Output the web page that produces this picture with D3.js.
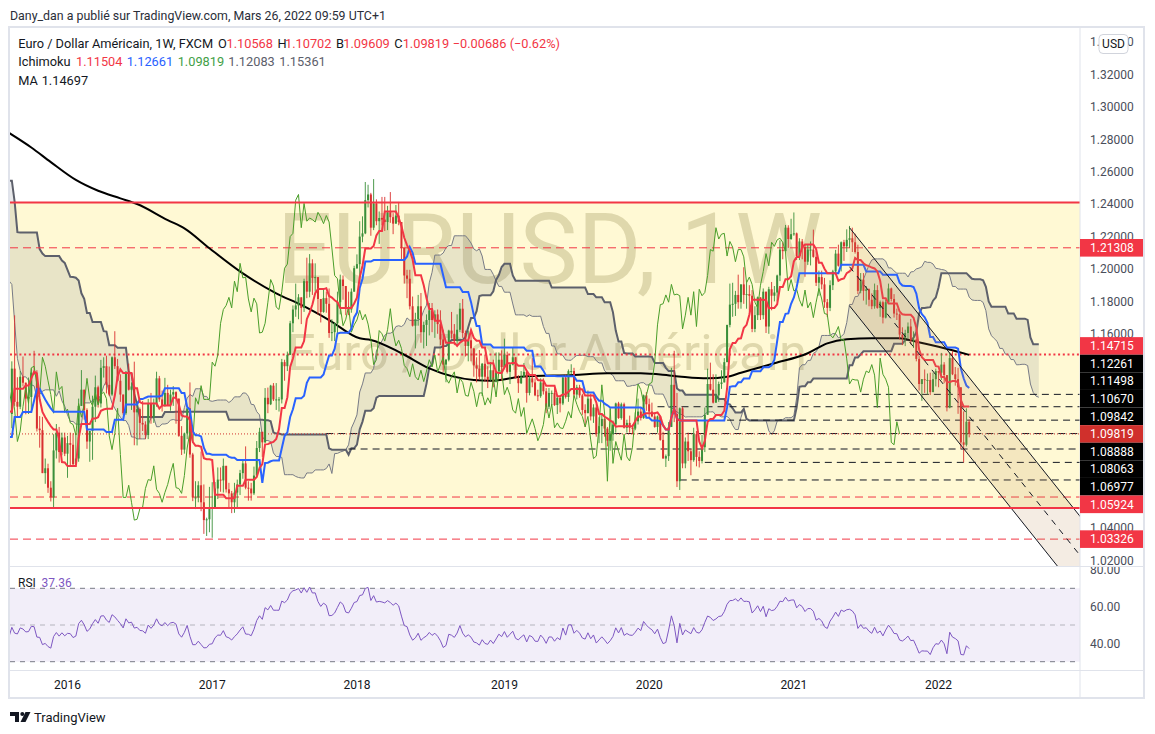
<!DOCTYPE html>
<html>
<head>
<meta charset="utf-8">
<script src="https://cdnjs.cloudflare.com/ajax/libs/d3/7.8.5/d3.min.js"></script>
<style>
  body { margin: 0; background: #fff; }
  svg { font-family: Roboto, "Liberation Sans", sans-serif; }
</style>
</head>
<body>
<svg id="chart" width="1155" height="734"></svg>
<script>
// ---- weekly EUR/USD (FXCM), [high, low, close]; open = previous close
const firstWeek = "2014-02-03";
const firstOpen = 1.3485;

const w2014 = [
  [1.3640,1.3478,1.3635],[1.3718,1.3580,1.3692],[1.3774,1.3642,1.3740],[1.3824,1.3642,1.3803],
  [1.3914,1.3735,1.3910],[1.3967,1.3838,1.3910],[1.3932,1.3750,1.3795],[1.3876,1.3705,1.3750],[1.3810,1.3673,1.3704],
  [1.3906,1.3695,1.3885],[1.3905,1.3789,1.3812],[1.3876,1.3780,1.3830],[1.3907,1.3772,1.3870],
  [1.3993,1.3758,1.3757],[1.3788,1.3646,1.3697],[1.3733,1.3617,1.3627],[1.3660,1.3586,1.3635],
  [1.3677,1.3503,1.3642],[1.3651,1.3523,1.3541],[1.3645,1.3540,1.3605],[1.3690,1.3572,1.3691],[1.3701,1.3585,1.3593],
  [1.3647,1.3576,1.3604],[1.3617,1.3490,1.3525],[1.3530,1.3421,1.3430],[1.3445,1.3367,1.3420],
  [1.3442,1.3333,1.3410],[1.3434,1.3338,1.3400],[1.3380,1.3220,1.3242],[1.3225,1.3133,1.3133],
  [1.3173,1.2920,1.2950],[1.2995,1.2860,1.2963],[1.3000,1.2815,1.2830],[1.2870,1.2680,1.2685],[1.2707,1.2500,1.2520],
  [1.2792,1.2570,1.2627],[1.2887,1.2615,1.2760],[1.2775,1.2614,1.2670],[1.2770,1.2440,1.2453],
  [1.2531,1.2357,1.2447],[1.2575,1.2358,1.2528],[1.2600,1.2359,1.2390],[1.2530,1.2395,1.2450],
  [1.2456,1.2247,1.2288],[1.2570,1.2246,1.2465],[1.2571,1.2220,1.2230],[1.2270,1.2160,1.2170],[1.2250,1.2000,1.2000]
];
const w2015 = [
  [1.2000,1.1755,1.1840],[1.1870,1.1460,1.1565],[1.1680,1.1114,1.1204],[1.1423,1.1098,1.1290],
  [1.1534,1.1270,1.1315],[1.1443,1.1260,1.1390],[1.1450,1.1315,1.1380],[1.1428,1.1175,1.1195],
  [1.1245,1.0840,1.0845],[1.0890,1.0462,1.0497],[1.1043,1.0458,1.0820],[1.1052,1.0798,1.0890],[1.1034,1.0712,1.0970],
  [1.0975,1.0590,1.0600],[1.0820,1.0520,1.0810],[1.0900,1.0663,1.0875],[1.1290,1.0870,1.1200],
  [1.1391,1.1090,1.1200],[1.1467,1.1139,1.1450],[1.1440,1.1000,1.1010],[1.1034,1.0819,1.0990],
  [1.1379,1.0887,1.1110],[1.1385,1.1130,1.1265],[1.1436,1.1190,1.1350],[1.1410,1.1134,1.1165],[1.1205,1.0955,1.1110],
  [1.1215,1.0915,1.1160],[1.1125,1.0810,1.0830],[1.1000,1.0808,1.0980],[1.1129,1.0935,1.0985],
  [1.0986,1.0847,1.0970],[1.1214,1.0935,1.1105],[1.1430,1.1017,1.1385],[1.1714,1.1155,1.1180],[1.1332,1.1086,1.1150],
  [1.1370,1.1135,1.1335],[1.1460,1.1275,1.1298],[1.1299,1.1103,1.1200],[1.1330,1.1105,1.1210],
  [1.1386,1.1122,1.1360],[1.1495,1.1350,1.1350],[1.1375,1.0997,1.1015],[1.1092,1.0897,1.1005],
  [1.1087,1.0740,1.0740],[1.0830,1.0674,1.0770],[1.0798,1.0618,1.0650],[1.0690,1.0565,1.0590],[1.0980,1.0524,1.0880],
  [1.1043,1.0830,1.0990],[1.1025,1.0805,1.0870],[1.0990,1.0850,1.0960],[1.0990,1.0845,1.0860]
];
const w2016 = [
  [1.0970,1.0711,1.0925],[1.0990,1.0781,1.0915],[1.0986,1.0778,1.0795],[1.0985,1.0810,1.0830],
  [1.1200,1.0810,1.1155],[1.1376,1.1160,1.1255],[1.1250,1.1070,1.1130],[1.1140,1.0890,1.0935],[1.1000,1.0810,1.1000],
  [1.1218,1.0822,1.1150],[1.1342,1.1055,1.1270],[1.1280,1.1145,1.1170],[1.1439,1.1145,1.1390],
  [1.1455,1.1330,1.1400],[1.1465,1.1232,1.1285],[1.1398,1.1215,1.1225],[1.1460,1.1217,1.1455],
  [1.1616,1.1383,1.1400],[1.1445,1.1305,1.1310],[1.1350,1.1180,1.1225],[1.1225,1.1100,1.1110],[1.1370,1.1100,1.1365],
  [1.1416,1.1250,1.1255],[1.1300,1.1130,1.1275],[1.1428,1.0912,1.1115],[1.1185,1.0911,1.1135],
  [1.1145,1.0951,1.1050],[1.1185,1.1000,1.1040],[1.1060,1.0950,1.0975],[1.1198,1.0950,1.1170],
  [1.1235,1.1045,1.1085],[1.1200,1.1050,1.1165],[1.1366,1.1150,1.1325],[1.1340,1.1180,1.1195],[1.1250,1.1120,1.1155],
  [1.1328,1.1150,1.1235],[1.1285,1.1155,1.1160],[1.1255,1.1125,1.1225],[1.1277,1.1155,1.1240],
  [1.1245,1.1045,1.1200],[1.1200,1.0964,1.0970],[1.1030,1.0852,1.0885],[1.0990,1.0860,1.0985],[1.1140,1.0950,1.1140],
  [1.1300,1.0835,1.0855],[1.0865,1.0567,1.0590],[1.0690,1.0518,1.0590],[1.0690,1.0560,1.0665],
  [1.0873,1.0505,1.0560],[1.0670,1.0365,1.0450],[1.0465,1.0352,1.0455],[1.0655,1.0375,1.0520]
];
const w2017 = [
  [1.0684,1.0341,1.0530],[1.0685,1.0520,1.0645],[1.0775,1.0580,1.0700],[1.0775,1.0625,1.0695],[1.0830,1.0620,1.0785],
  [1.0785,1.0620,1.0640],[1.0680,1.0520,1.0615],[1.0630,1.0493,1.0560],[1.0680,1.0495,1.0620],
  [1.0700,1.0525,1.0670],[1.0760,1.0605,1.0740],[1.0825,1.0705,1.0800],[1.0905,1.0640,1.0650],
  [1.0690,1.0570,1.0645],[1.0680,1.0570,1.0615],[1.0780,1.0605,1.0725],[1.0938,1.0770,1.0895],
  [1.1020,1.0870,1.0995],[1.0995,1.0840,1.0930],[1.1265,1.0925,1.1205],[1.1268,1.1110,1.1165],[1.1285,1.1160,1.1280],
  [1.1296,1.1185,1.1195],[1.1296,1.1130,1.1195],[1.1210,1.1120,1.1195],[1.1445,1.1170,1.1425],
  [1.1440,1.1310,1.1400],[1.1490,1.1370,1.1470],[1.1680,1.1480,1.1665],[1.1775,1.1610,1.1750],[1.1910,1.1705,1.1775],
  [1.1845,1.1690,1.1825],[1.1825,1.1660,1.1760],[1.1940,1.1735,1.1925],[1.2070,1.1820,1.1860],
  [1.2092,1.1825,1.2035],[1.2060,1.1840,1.1945],[1.2035,1.1860,1.1950],[1.1950,1.1717,1.1815],
  [1.1790,1.1670,1.1735],[1.1880,1.1730,1.1820],[1.1860,1.1730,1.1785],[1.1880,1.1575,1.1605],[1.1690,1.1555,1.1610],
  [1.1670,1.1555,1.1665],[1.1860,1.1600,1.1795],[1.1965,1.1720,1.1935],[1.1960,1.1810,1.1895],
  [1.1880,1.1715,1.1765],[1.1860,1.1715,1.1750],[1.1880,1.1730,1.1860],[1.2020,1.1860,1.2005]
];
const w2018 = [
  [1.2090,1.2000,1.2030],[1.2295,1.1915,1.2200],[1.2325,1.2165,1.2220],[1.2537,1.2215,1.2425],[1.2520,1.2380,1.2460],
  [1.2470,1.2205,1.2255],[1.2555,1.2240,1.2405],[1.2430,1.2270,1.2295],[1.2355,1.2155,1.2315],
  [1.2445,1.2270,1.2305],[1.2445,1.2235,1.2290],[1.2390,1.2240,1.2350],[1.2475,1.2285,1.2320],
  [1.2345,1.2215,1.2280],[1.2395,1.2300,1.2330],[1.2414,1.2270,1.2290],[1.2280,1.2055,1.2130],[1.2120,1.1910,1.1960],
  [1.1995,1.1820,1.1940],[1.1995,1.1750,1.1770],[1.1830,1.1645,1.1650],[1.1730,1.1510,1.1690],
  [1.1840,1.1650,1.1770],[1.1852,1.1545,1.1610],[1.1675,1.1510,1.1655],[1.1720,1.1525,1.1685],
  [1.1790,1.1590,1.1745],[1.1790,1.1610,1.1685],[1.1745,1.1575,1.1720],[1.1750,1.1600,1.1660],[1.1745,1.1530,1.1565],
  [1.1625,1.1365,1.1410],[1.1445,1.1301,1.1440],[1.1625,1.1430,1.1620],[1.1735,1.1570,1.1600],
  [1.1660,1.1530,1.1555],[1.1720,1.1525,1.1625],[1.1790,1.1610,1.1755],[1.1815,1.1575,1.1605],
  [1.1620,1.1460,1.1525],[1.1620,1.1430,1.1560],[1.1620,1.1430,1.1510],[1.1495,1.1335,1.1405],[1.1455,1.1300,1.1385],
  [1.1500,1.1315,1.1335],[1.1420,1.1216,1.1415],[1.1470,1.1305,1.1335],[1.1400,1.1265,1.1315],
  [1.1425,1.1310,1.1375],[1.1440,1.1270,1.1305],[1.1485,1.1300,1.1370],[1.1485,1.1375,1.1440]
];
const w2019 = [
  [1.1498,1.1310,1.1395],
  [1.1570,1.1390,1.1470],[1.1490,1.1355,1.1365],[1.1415,1.1290,1.1410],[1.1515,1.1405,1.1455],
  [1.1455,1.1325,1.1325],[1.1345,1.1235,1.1295],[1.1370,1.1290,1.1335],[1.1420,1.1345,1.1365],
  [1.1375,1.1175,1.1235],[1.1340,1.1220,1.1325],[1.1450,1.1270,1.1300],[1.1325,1.1215,1.1220],
  [1.1255,1.1185,1.1215],[1.1325,1.1205,1.1300],[1.1325,1.1225,1.1245],[1.1265,1.1110,1.1150],[1.1265,1.1135,1.1235],
  [1.1250,1.1160,1.1235],[1.1265,1.1155,1.1160],[1.1215,1.1105,1.1205],[1.1215,1.1115,1.1170],
  [1.1345,1.1160,1.1330],[1.1350,1.1200,1.1210],[1.1380,1.1180,1.1370],[1.1412,1.1350,1.1370],
  [1.1390,1.1205,1.1225],[1.1285,1.1195,1.1270],[1.1285,1.1205,1.1220],[1.1230,1.1100,1.1130],[1.1165,1.1025,1.1110],
  [1.1250,1.1110,1.1200],[1.1230,1.1065,1.1090],[1.1165,1.1050,1.1145],[1.1165,1.0965,1.0985],
  [1.1085,1.0925,1.1030],[1.1110,1.0925,1.1075],[1.1075,1.0965,1.1015],[1.1025,1.0905,1.0940],[1.0999,1.0879,1.0980],
  [1.1065,1.0940,1.1040],[1.1175,1.0990,1.1170],[1.1180,1.1075,1.1080],[1.1175,1.1070,1.1165],
  [1.1175,1.1015,1.1020],[1.1070,1.0990,1.1050],[1.1095,1.0990,1.1020],[1.1040,1.0980,1.1015],
  [1.1115,1.1005,1.1060],[1.1200,1.1040,1.1120],[1.1145,1.1065,1.1080],[1.1225,1.1075,1.1220]
];
const w2020 = [
  [1.1240,1.1125,1.1165],
  [1.1200,1.1085,1.1120],[1.1175,1.1085,1.1090],[1.1115,1.1020,1.1025],[1.1095,1.0990,1.1090],
  [1.1095,1.0940,1.0945],[1.0995,1.0830,1.0830],[1.0855,1.0778,1.0845],[1.1055,1.0815,1.1025],
  [1.1390,1.1050,1.1285],[1.1495,1.1055,1.1105],[1.1235,1.0654,1.0690],[1.1145,1.0636,1.1140],[1.1150,1.0770,1.0800],
  [1.0960,1.0770,1.0935],[1.0990,1.0815,1.0875],[1.0890,1.0727,1.0820],[1.1020,1.0810,1.0980],
  [1.1000,1.0782,1.0840],[1.0875,1.0775,1.0815],[1.0975,1.0800,1.0900],[1.1145,1.0870,1.1100],
  [1.1385,1.1100,1.1290],[1.1422,1.1250,1.1255],[1.1350,1.1170,1.1175],[1.1350,1.1185,1.1220],[1.1305,1.1180,1.1290],
  [1.1375,1.1260,1.1300],[1.1450,1.1320,1.1425],[1.1655,1.1425,1.1655],[1.1910,1.1640,1.1780],
  [1.1915,1.1705,1.1785],[1.1865,1.1710,1.1840],[1.1965,1.1755,1.1795],[1.1905,1.1755,1.1905],[1.2011,1.1785,1.1840],
  [1.1915,1.1755,1.1845],[1.1900,1.1735,1.1835],[1.1870,1.1610,1.1630],[1.1770,1.1610,1.1715],
  [1.1830,1.1685,1.1825],[1.1795,1.1685,1.1715],[1.1880,1.1690,1.1860],[1.1860,1.1605,1.1645],
  [1.1890,1.1600,1.1875],[1.1920,1.1745,1.1835],[1.1895,1.1800,1.1855],[1.1965,1.1800,1.1960],[1.2177,1.1925,1.2120],
  [1.2165,1.2060,1.2110],[1.2272,1.2110,1.2255],[1.2270,1.2130,1.2185]
];
const w2021 = [
  [1.2310,1.2180,1.2215],
  [1.2349,1.2205,1.2220],[1.2225,1.2055,1.2080],[1.2190,1.2055,1.2170],[1.2185,1.2060,1.2135],
  [1.2150,1.1952,1.2045],[1.2150,1.2025,1.2120],[1.2170,1.2022,1.2120],[1.2243,1.2070,1.2075],
  [1.2110,1.1895,1.1915],[1.1990,1.1835,1.1950],[1.1990,1.1875,1.1905],[1.1945,1.1760,1.1795],[1.1815,1.1704,1.1760],
  [1.1930,1.1740,1.1900],[1.1995,1.1870,1.1985],[1.2118,1.1975,1.2095],[1.2150,1.2015,1.2020],
  [1.2170,1.1985,1.2165],[1.2180,1.2050,1.2140],[1.2245,1.2105,1.2180],[1.2266,1.2130,1.2190],[1.2255,1.2105,1.2165],
  [1.2218,1.2095,1.2105],[1.2150,1.1845,1.1865],[1.1975,1.1850,1.1935],[1.1975,1.1805,1.1865],
  [1.1895,1.1780,1.1875],[1.1880,1.1770,1.1810],[1.1850,1.1752,1.1770],[1.1910,1.1755,1.1870],
  [1.1900,1.1755,1.1760],[1.1805,1.1705,1.1795],[1.1805,1.1664,1.1700],[1.1810,1.1695,1.1795],[1.1910,1.1785,1.1880],
  [1.1885,1.1800,1.1815],[1.1845,1.1700,1.1725],[1.1755,1.1685,1.1720],[1.1726,1.1565,1.1595],
  [1.1640,1.1530,1.1575],[1.1625,1.1524,1.1605],[1.1670,1.1570,1.1645],[1.1692,1.1535,1.1560],
  [1.1615,1.1512,1.1565],[1.1610,1.1430,1.1445],[1.1465,1.1250,1.1290],[1.1320,1.1186,1.1320],[1.1380,1.1235,1.1315],
  [1.1355,1.1225,1.1315],[1.1360,1.1222,1.1240],[1.1360,1.1265,1.1320]
];
const w2022 = [
  [1.1385,1.1275,1.1370],
  [1.1365,1.1270,1.1360],[1.1482,1.1315,1.1410],[1.1425,1.1295,1.1345],[1.1340,1.1121,1.1145],[1.1485,1.1140,1.1450],
  [1.1495,1.1345,1.1350],[1.1395,1.1280,1.1320],[1.1390,1.1106,1.1270],[1.1235,1.0890,1.0930],
  [1.1121,1.0806,1.0915],[1.1140,1.0905,1.1057],[1.10702,1.09609,1.09819]
];

// 200-week moving average
const maDates = ["2015-08-10","2015-10-05","2015-11-23","2016-01-25","2016-03-21","2016-05-16","2016-06-27",
  "2016-09-12","2016-10-24","2016-12-26","2017-03-20","2017-06-12","2017-08-14","2017-10-23","2018-01-08",
  "2018-02-05","2018-04-23","2018-07-02","2018-10-22","2018-12-03","2019-02-18","2019-07-01","2019-09-23",
  "2019-12-16","2020-03-09","2020-06-01","2020-07-20","2020-08-24","2020-11-16","2021-02-08","2021-03-29",
  "2021-05-17","2021-07-19","2021-09-27","2021-11-08","2022-01-03","2022-03-21"];
const maValues = [1.2840,1.2750,1.2660,1.2550,1.2483,1.2436,1.2401,1.2302,1.2251,1.2128,1.1973,1.1850,1.1778,
  1.1685,1.1572,1.1562,1.1480,1.1387,1.1315,1.1310,1.1335,1.1346,1.1356,1.1356,1.1340,1.1325,1.1335,1.1360,
  1.1418,1.1480,1.1541,1.1566,1.1572,1.1572,1.1551,1.1520,1.14697];

// RSI length is not shown in the legend; 21 gives the shown last value
const rsiLength = 21;

// drawings
const zoneTop = 1.2410, zoneBottom = 1.0525;
const redDashed = [1.21308, 1.05924, 1.03326];
const redDotted = [1.14715];
const blackLevels = [1.12261, 1.11498, 1.10670, 1.09842, 1.08888, 1.08063, 1.06977];
const blackStarts = ["2020-07-27","2020-01-27","2020-07-20","2017-10-16","2017-12-11","2020-05-25","2020-03-23"];
const lastClose = 1.09819;
const channelDates = ["2021-05-24", "2022-03-21"];
const channelPrices = [1.2255, 1.1330];
const channelWidth = 0.0482;

const tagPrices = [1.21308, 1.14715, 1.12261, 1.11498, 1.10670, 1.09842, 1.09819, 1.08888, 1.08063, 1.06977, 1.05924, 1.03326];
const tagColors = ["#f23645","#f23645","#000","#000","#000","#000","#d0302c","#000","#000","#000","#f23645","#f23645"];
const priceTicks = [1.02,1.04,1.06,1.08,1.10,1.12,1.14,1.16,1.18,1.20,1.22,1.24,1.26,1.28,1.30,1.32,1.34];
const rsiTicks = [40, 60, 80];
const years = [2016, 2017, 2018, 2019, 2020, 2021, 2022];

// ---- layout
const plotL = 10, plotR = 1080, axisR = 1144;
const mainT = 28, mainB = 566, rsiT = 567, rsiB = 670, frameB = 698;

const parse = d3.utcParse("%Y-%m-%d");
const t0 = parse(firstWeek);
const dateAt = i => d3.utcDay.offset(t0, 7 * i);

const weeks = [].concat(w2014, w2015, w2016, w2017, w2018, w2019, w2020, w2021, w2022);
const bars = weeks.map((w, i) => ({ i, date: dateAt(i), h: w[0], l: w[1], c: w[2] }));
bars.forEach((b, i) => {
  b.o = i ? bars[i - 1].c : firstOpen;
  b.h = Math.max(b.h, b.o, b.c);
  b.l = Math.min(b.l, b.o, b.c);
});
const N = bars.length;

const x = d3.scaleUtc().domain([parse("2016-01-04"), parse("2022-03-21")]).range([67.5, 969.2]);
const xi = i => x(dateAt(i));
const y = d3.scaleLinear().domain([1.02, 1.32]).range([560.6, 74.6]);
const yR = d3.scaleLinear().domain([30, 70]).range([661.7, 588.3]);

// ---- indicators
function mid(i, n) {
  let hh = -Infinity, ll = Infinity;
  for (let k = Math.max(0, i - n + 1); k <= i; k++) { hh = Math.max(hh, bars[k].h); ll = Math.min(ll, bars[k].l); }
  return (hh + ll) / 2;
}
const tenkan = bars.filter(b => b.i >= 8).map(b => ({ i: b.i, v: mid(b.i, 9) }));
const kijun = bars.filter(b => b.i >= 25).map(b => ({ i: b.i, v: mid(b.i, 26) }));
const chikou = bars.map(b => ({ i: b.i - 25, v: b.c }));
const lead = bars.filter(b => b.i >= 51).map(b => ({
  i: b.i + 25, a: (mid(b.i, 9) + mid(b.i, 26)) / 2, b: mid(b.i, 52)
}));

const rsi = [];
let ag = 0, al = 0;
for (let i = 1; i < N; i++) {
  const ch = bars[i].c - bars[i - 1].c, g = Math.max(ch, 0), l = Math.max(-ch, 0);
  if (i <= rsiLength) {
    ag += g / rsiLength; al += l / rsiLength;
    if (i === rsiLength) rsi.push({ i, v: 100 - 100 / (1 + ag / al) });
  } else {
    ag = (ag * (rsiLength - 1) + g) / rsiLength; al = (al * (rsiLength - 1) + l) / rsiLength;
    rsi.push({ i, v: al === 0 ? 100 : 100 - 100 / (1 + ag / al) });
  }
}

// ---- svg
const svg = d3.select("#chart");
const defs = svg.append("defs");
function clip(id, x0, y0, w, h) {
  defs.append("clipPath").attr("id", id).append("rect").attr("x", x0).attr("y", y0).attr("width", w).attr("height", h);
}
clip("cMain", plotL, mainT, plotR - plotL, mainB - mainT);
clip("cRsi", plotL, rsiT, plotR - plotL, rsiB - rsiT);
clip("cAxMain", plotR, mainT, axisR - plotR, mainB - mainT);
clip("cAxRsi", plotR, rsiT, axisR - plotR, rsiB - rsiT);

function hline(g, p, x0, x1, color, w, dash) {
  g.append("line").attr("x1", x0).attr("x2", x1).attr("y1", y(p)).attr("y2", y(p))
    .attr("stroke", color).attr("stroke-width", w).attr("stroke-dasharray", dash || null);
}
function fitFont(sel, width, base) {
  sel.attr("font-size", base);
  const len = sel.node().getComputedTextLength();
  const s = base * width / len;
  sel.attr("font-size", s);
  return s;
}

// header
const hdr = svg.append("text").attr("x", 10).attr("y", 16).attr("dy", "0.35em").attr("fill", "#2a2e39")
  .text("Dany_dan a publié sur TradingView.com, Mars 26, 2022 09:59 UTC+1");
fitFont(hdr, 376, 13);

// ---- main pane
const gMain = svg.append("g").attr("clip-path", "url(#cMain)");
gMain.append("rect").attr("x", plotL).attr("width", plotR - plotL)
  .attr("y", y(zoneTop)).attr("height", y(zoneBottom) - y(zoneTop)).attr("fill", "#fff9d4");

// watermark
const wm1 = gMain.append("text").attr("x", 549.5).attr("y", 283).attr("text-anchor", "middle")
  .attr("fill", "rgba(150,140,80,0.3)").text("EURUSD, 1W");
fitFont(wm1, 545, 100);
const wm2 = gMain.append("text").attr("x", 547).attr("y", 370).attr("text-anchor", "middle")
  .attr("fill", "rgba(150,140,80,0.3)").text("Euro / Dollar Américain");
fitFont(wm2, 520, 52);

// cloud
gMain.append("path").datum(lead)
  .attr("d", d3.area().x(d => xi(d.i)).y0(d => y(d.a)).y1(d => y(d.b)))
  .attr("fill", "rgba(120,123,134,0.17)");
gMain.append("path").datum(lead)
  .attr("d", d3.line().x(d => xi(d.i)).y(d => y(d.a)))
  .attr("fill", "none").attr("stroke", "#787b86").attr("stroke-width", 1);
gMain.append("path").datum(lead)
  .attr("d", d3.line().x(d => xi(d.i)).y(d => y(d.b)))
  .attr("fill", "none").attr("stroke", "#5d606b").attr("stroke-width", 2);

// horizontal levels
redDashed.forEach(p => hline(gMain, p, plotL, plotR, "#f23645", 1, "8,5"));
redDotted.forEach(p => hline(gMain, p, plotL, plotR, "#f23645", 2, "2,2.7"));
blackLevels.forEach((p, k) => hline(gMain, p, x(parse(blackStarts[k])), plotR, "#131722", 1, "7,5"));
hline(gMain, lastClose, plotL, plotR, "#d0302c", 1, "1,2");

// MA
gMain.append("path").datum(maDates.map((d, k) => ({ d: parse(d), v: maValues[k] })))
  .attr("d", d3.line().curve(d3.curveMonotoneX).x(d => x(d.d)).y(d => y(d.v)))
  .attr("fill", "none").attr("stroke", "#000").attr("stroke-width", 2);

// candles
const up = "#3a8f3a", dn = "#d93030";
gMain.append("g").selectAll("line").data(bars).join("line")
  .attr("x1", d => xi(d.i)).attr("x2", d => xi(d.i))
  .attr("y1", d => y(d.h)).attr("y2", d => y(d.l))
  .attr("stroke", d => d.c >= d.o ? up : dn).attr("stroke-width", 0.9);
gMain.append("g").selectAll("rect").data(bars).join("rect")
  .attr("x", d => xi(d.i) - 1).attr("width", 2)
  .attr("y", d => y(Math.max(d.o, d.c)))
  .attr("height", d => Math.max(1, Math.abs(y(d.o) - y(d.c))))
  .attr("fill", d => d.c >= d.o ? up : dn);

// ichimoku lines
const vLine = d3.line().x(d => xi(d.i)).y(d => y(d.v));
gMain.append("path").datum(chikou).attr("d", vLine).attr("fill", "none").attr("stroke", "#4a9e2a").attr("stroke-width", 1);
gMain.append("path").datum(kijun).attr("d", vLine).attr("fill", "none").attr("stroke", "#2962ff").attr("stroke-width", 2);
gMain.append("path").datum(tenkan).attr("d", vLine).attr("fill", "none").attr("stroke", "#f23645").attr("stroke-width", 2);

// parallel channel
const cx0 = x(parse(channelDates[0])), cx1 = x(parse(channelDates[1]));
const cy0 = y(channelPrices[0]), cy1 = y(channelPrices[1]);
const slope = (cy1 - cy0) / (cx1 - cx0);
const off = y(zoneTop - channelWidth) - y(zoneTop);
const cxe = plotR + 60;
const uy = xx => cy0 + slope * (xx - cx0);
gMain.append("path")
  .attr("d", d3.line()([[cx0, uy(cx0)], [cxe, uy(cxe)], [cxe, uy(cxe) + off], [cx0, uy(cx0) + off]]) + "Z")
  .attr("fill", "rgba(190,140,90,0.17)");
[[0, null], [off / 2, "6,6"], [off, null]].forEach(([o, dash]) => {
  gMain.append("line").attr("x1", cx0).attr("y1", uy(cx0) + o).attr("x2", cxe).attr("y2", uy(cxe) + o)
    .attr("stroke", "#131722").attr("stroke-width", 1).attr("stroke-dasharray", dash);
});

// zone borders
hline(gMain, zoneTop, plotL, plotR, "#f23645", 2);
hline(gMain, zoneBottom, plotL, plotR, "#f23645", 2);

// legend
const lg = svg.append("g");
function lt(xx, yy, s, color) {
  return lg.append("text").attr("x", xx).attr("y", yy).attr("dy", "0.35em").attr("fill", color).text(s);
}
const t1 = lt(18.3, 43.5, "Euro / Dollar Américain, 1W, FXCM", "#131722");
const fs = fitFont(t1, 195, 12);
lg.attr("font-size", fs);
[["O", 218, "1.10568", 226.5], ["H", 277.5, "1.10702", 285], ["B", 336, "1.09609", 343.3], ["C", 394.3, "1.09819", 402.7]]
  .forEach(([k, kx, v, vx]) => { lt(kx, 43.5, k, "#131722"); lt(vx, 43.5, v, "#f23645"); });
lt(452.7, 43.5, "\u22120.00686 (\u22120.62%)", "#f23645");
lt(18.3, 62, "Ichimoku", "#131722");
[["1.11504", 76, "#f23645"], ["1.12661", 126.7, "#2962ff"], ["1.09819", 177.7, "#43a047"],
 ["1.12083", 228.3, "#5d606b"], ["1.15361", 279.3, "#5d606b"]].forEach(([v, vx, c]) => lt(vx, 62, v, c));
lt(18.3, 80.5, "MA", "#131722");
lt(41.7, 80.5, "1.14697", "#131722");

// ---- RSI pane
const gR = svg.append("g").attr("clip-path", "url(#cRsi)");
gR.append("rect").attr("x", plotL).attr("width", plotR - plotL).attr("y", yR(70)).attr("height", yR(30) - yR(70))
  .attr("fill", "rgba(126,87,194,0.1)");
[[70, "#787b86"], [50, "rgba(120,123,134,0.5)"], [30, "#787b86"]].forEach(([v, c]) => {
  gR.append("line").attr("x1", plotL).attr("x2", plotR).attr("y1", yR(v)).attr("y2", yR(v))
    .attr("stroke", c).attr("stroke-width", 1).attr("stroke-dasharray", "5,5");
});
gR.append("path").datum(rsi).attr("d", d3.line().x(d => xi(d.i)).y(d => yR(d.v)))
  .attr("fill", "none").attr("stroke", "#7e57c2").attr("stroke-width", 1);
svg.append("text").attr("x", 18).attr("y", 583).attr("dy", "0.35em").attr("font-size", 12).attr("fill", "#131722").text("RSI");
svg.append("text").attr("x", 41.5).attr("y", 583).attr("dy", "0.35em").attr("font-size", 12).attr("fill", "#7e57c2").text("37.36");

// ---- frame and separators
const fr = svg.append("g").attr("stroke", "#e0e3eb").attr("fill", "none");
fr.append("rect").attr("x", 9).attr("y", 27).attr("width", axisR - 9).attr("height", frameB - 27).attr("stroke-width", 2);
fr.append("line").attr("x1", plotR).attr("x2", plotR).attr("y1", 27).attr("y2", frameB);
fr.append("line").attr("x1", 9).attr("x2", axisR).attr("y1", 566.5).attr("y2", 566.5);
fr.append("line").attr("x1", 9).attr("x2", axisR).attr("y1", 670.5).attr("y2", 670.5);

// ---- price axis
const fmt5 = d3.format(".5f");
const tagH = 17.6;
const tags = tagPrices.map((p, k) => ({ p, c: tagColors[k], y: y(p) }));
const anchor = tagPrices.indexOf(lastClose);
for (let k = anchor - 1; k >= 0; k--) tags[k].y = Math.min(tags[k].y, tags[k + 1].y - tagH);
for (let k = anchor + 1; k < tags.length; k++) tags[k].y = Math.max(tags[k].y, tags[k - 1].y + tagH);

// a tick label that the tag boxes hide completely is not drawn
const covered = yy => tags.some(t => yy >= t.y - tagH / 2 && yy <= t.y + tagH / 2);
const visibleTicks = priceTicks.filter(p => !d3.range(-5, 5.5, 1).every(d => covered(y(p) + d)));
const gAx = svg.append("g").attr("clip-path", "url(#cAxMain)").attr("font-size", 12);
gAx.selectAll("text.tick").data(visibleTicks).join("text").attr("class", "tick")
  .attr("x", 1090).attr("y", d => y(d)).attr("dy", "0.35em").attr("fill", "#4a4e5a").text(fmt5);
const tg = gAx.selectAll("g.tag").data(tags).join("g").attr("class", "tag");
tg.append("rect").attr("x", plotR).attr("width", 63).attr("y", d => d.y - tagH / 2).attr("height", tagH).attr("fill", d => d.c);
tg.append("text").attr("x", 1090).attr("y", d => d.y).attr("dy", "0.35em").attr("fill", "#fff").text(d => fmt5(d.p));

// currency badge
svg.append("rect").attr("x", 1099).attr("y", 34.5).attr("width", 29).attr("height", 19).attr("rx", 4)
  .attr("fill", "#fff").attr("stroke", "#d1d4dc");
svg.append("text").attr("x", 1113.5).attr("y", 44).attr("dy", "0.35em").attr("text-anchor", "middle")
  .attr("font-size", 12).attr("fill", "#131722").text("USD");

// rsi axis
svg.append("g").attr("clip-path", "url(#cAxRsi)").attr("font-size", 12)
  .selectAll("text").data(rsiTicks).join("text")
  .attr("x", 1090).attr("y", d => yR(d)).attr("dy", "0.35em").attr("fill", "#4a4e5a").text(d3.format(".2f"));

// time axis
svg.append("g").attr("font-size", 12).selectAll("text").data(years).join("text")
  .attr("x", yr => xi(bars.find(b => b.date.getUTCFullYear() === yr).i))
  .attr("y", 684.5).attr("dy", "0.35em").attr("text-anchor", "middle").attr("fill", "#131722").text(d => d);

// TradingView logo
const logo = svg.append("g").attr("fill", "#131722");
logo.append("path").attr("d", "M10 712 h9 v10 h-4 v-6 h-5 z");
logo.append("circle").attr("cx", 22.3).attr("cy", 714).attr("r", 2);
logo.append("path").attr("d", "M25.5 712 h5 l-5 10 h-5 z");
svg.append("text").attr("x", 34).attr("y", 717).attr("dy", "0.35em").attr("font-size", 13)
  .attr("fill", "#131722").text("TradingView");
</script>
</body>
</html>
